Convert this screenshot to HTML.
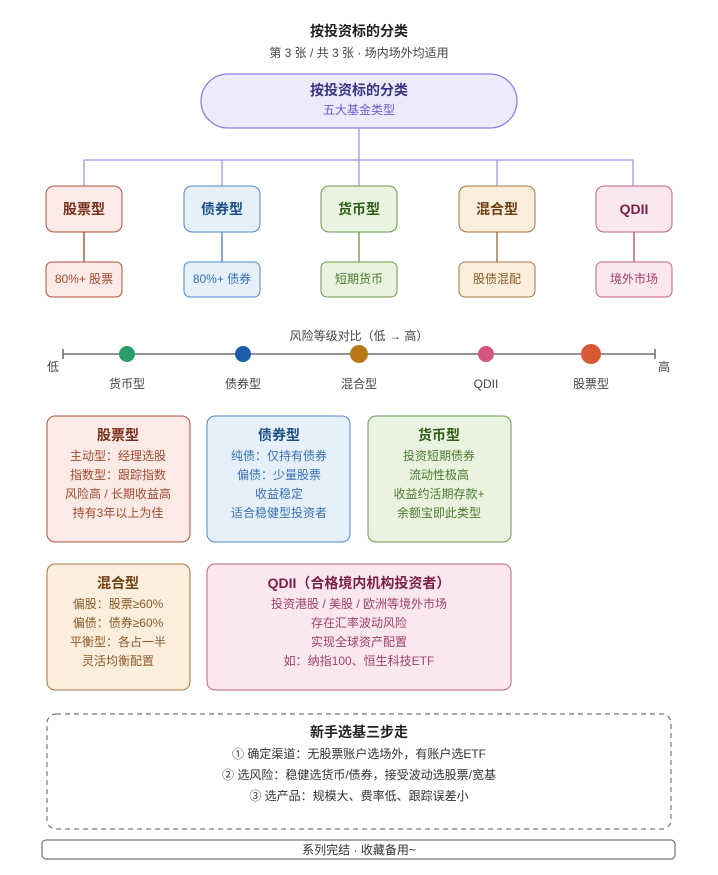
<!DOCTYPE html>
<html><head><meta charset="utf-8"><style>
html,body{margin:0;padding:0;background:#fff;}
svg text{font-family:"Liberation Sans","Noto Sans CJK SC",sans-serif;}
</style></head><body>
<svg width="718" height="870" viewBox="0 0 718 870" xmlns="http://www.w3.org/2000/svg">
<rect width="718" height="870" fill="#fff"/>
<text x="359" y="36" text-anchor="middle" font-size="14" font-weight="bold" fill="#222">按投资标的分类</text>
<text x="359" y="57" text-anchor="middle" font-size="12" fill="#444">第 3 张 / 共 3 张 · 场内场外均适用</text>
<rect x="201" y="74" width="316" height="54" rx="27" fill="#eceafb" stroke="#8b80e0" stroke-width="1.3"/>
<text x="359" y="95" text-anchor="middle" font-size="14" font-weight="bold" fill="#3b3480">按投资标的分类</text>
<text x="359" y="114" text-anchor="middle" font-size="12" fill="#6b5fd0">五大基金类型</text>
<g stroke="#9890e8" stroke-width="1.2" fill="none">
<path d="M359 128V160M84 186V160H633V186M222 160V186M359 160V186M497 160V186"/>
</g>
<!-- level boxes -->
<g font-size="14" font-weight="bold" text-anchor="middle">
<rect x="46" y="186" width="76" height="46" rx="8" fill="#fbeae5" stroke="#b0523a"/>
<text x="84" y="214" fill="#7a2e1a">股票型</text>
<rect x="184" y="186" width="76" height="46" rx="8" fill="#e5f0fb" stroke="#4a88c8"/>
<text x="222" y="214" fill="#1d4d85">债券型</text>
<rect x="321" y="186" width="76" height="46" rx="8" fill="#e9f3e0" stroke="#6a9a4a"/>
<text x="359" y="214" fill="#2f5e16">货币型</text>
<rect x="459" y="186" width="76" height="46" rx="8" fill="#fbeedd" stroke="#a8743a"/>
<text x="497" y="214" fill="#6e3f10">混合型</text>
<rect x="596" y="186" width="76" height="46" rx="8" fill="#fbe8ef" stroke="#c06086"/>
<text x="634" y="214" fill="#7a1f45">QDII</text>
</g>
<g stroke-width="1.2">
<line x1="84" y1="232" x2="84" y2="262" stroke="#8a3a22"/>
<line x1="222" y1="232" x2="222" y2="262" stroke="#3a70b0"/>
<line x1="359" y1="232" x2="359" y2="262" stroke="#5a8a3a"/>
<line x1="497" y1="232" x2="497" y2="262" stroke="#8a5a28"/>
<line x1="634" y1="232" x2="634" y2="262" stroke="#a0406a"/>
</g>
<g font-size="12" text-anchor="middle">
<rect x="46" y="262" width="76" height="35" rx="6" fill="#fbeae5" stroke="#b0523a"/>
<text x="84" y="283" fill="#a04a30">80%+ 股票</text>
<rect x="184" y="262" width="76" height="35" rx="6" fill="#e5f0fb" stroke="#4a88c8"/>
<text x="222" y="283" fill="#3a70b0">80%+ 债券</text>
<rect x="321" y="262" width="76" height="35" rx="6" fill="#e9f3e0" stroke="#6a9a4a"/>
<text x="359" y="283" fill="#4d7a2e">短期货币</text>
<rect x="459" y="262" width="76" height="35" rx="6" fill="#fbeedd" stroke="#a8743a"/>
<text x="497" y="283" fill="#8a5a28">股债混配</text>
<rect x="596" y="262" width="76" height="35" rx="6" fill="#fbe8ef" stroke="#c06086"/>
<text x="634" y="283" fill="#a0406a">境外市场</text>
</g>
<!-- risk line -->
<text x="359" y="340" text-anchor="middle" font-size="12" fill="#444">风险等级对比（低 → 高）</text>
<g stroke="#555" stroke-width="1.3"><line x1="63" y1="354" x2="655" y2="354"/><line x1="63" y1="349" x2="63" y2="359"/><line x1="655" y1="349" x2="655" y2="359"/></g>
<text x="53" y="371" text-anchor="middle" font-size="12" fill="#444">低</text>
<text x="664" y="371" text-anchor="middle" font-size="12" fill="#444">高</text>
<circle cx="127" cy="354" r="8" fill="#2a9d6a"/>
<circle cx="243" cy="354" r="8" fill="#1a5ea8"/>
<circle cx="359" cy="354" r="9" fill="#b87818"/>
<circle cx="486" cy="354" r="8" fill="#d45482"/>
<circle cx="591" cy="354" r="10" fill="#d65a34"/>
<g font-size="12" text-anchor="middle" fill="#444">
<text x="127" y="388">货币型</text><text x="243" y="388">债券型</text><text x="359" y="388">混合型</text><text x="486" y="388">QDII</text><text x="591" y="388">股票型</text>
</g>
<!-- cards -->
<g font-size="12" text-anchor="middle">
<rect x="47" y="416" width="143" height="126" rx="8" fill="#fbeae5" stroke="#b0523a"/>
<text x="118" y="440" font-size="14" font-weight="bold" fill="#7a2e1a">股票型</text>
<g fill="#a04a30"><text x="118" y="460">主动型：经理选股</text><text x="118" y="479">指数型：跟踪指数</text><text x="118" y="498">风险高 / 长期收益高</text><text x="118" y="517">持有3年以上为佳</text></g>
<rect x="207" y="416" width="143" height="126" rx="8" fill="#e5f0fb" stroke="#4a88c8"/>
<text x="279" y="440" font-size="14" font-weight="bold" fill="#1d4d85">债券型</text>
<g fill="#3a70b0"><text x="279" y="460">纯债：仅持有债券</text><text x="279" y="479">偏债：少量股票</text><text x="279" y="498">收益稳定</text><text x="279" y="517">适合稳健型投资者</text></g>
<rect x="368" y="416" width="143" height="126" rx="8" fill="#e9f3e0" stroke="#6a9a4a"/>
<text x="439" y="440" font-size="14" font-weight="bold" fill="#2f5e16">货币型</text>
<g fill="#4d7a2e"><text x="439" y="460">投资短期债券</text><text x="439" y="479">流动性极高</text><text x="439" y="498">收益约活期存款+</text><text x="439" y="517">余额宝即此类型</text></g>
<rect x="47" y="564" width="143" height="126" rx="8" fill="#fbeedd" stroke="#a8743a"/>
<text x="118" y="588" font-size="14" font-weight="bold" fill="#6e3f10">混合型</text>
<g fill="#8a5a28"><text x="118" y="608">偏股：股票≥60%</text><text x="118" y="627">偏债：债券≥60%</text><text x="118" y="646">平衡型：各占一半</text><text x="118" y="665">灵活均衡配置</text></g>
<rect x="207" y="564" width="304" height="126" rx="8" fill="#fbe8ef" stroke="#c06086"/>
<text x="359" y="588" font-size="14" font-weight="bold" fill="#7a1f45">QDII（合格境内机构投资者）</text>
<g fill="#a0406a"><text x="359" y="608">投资港股 / 美股 / 欧洲等境外市场</text><text x="359" y="627">存在汇率波动风险</text><text x="359" y="646">实现全球资产配置</text><text x="359" y="665">如：纳指100、恒生科技ETF</text></g>
</g>
<rect x="47" y="714" width="624" height="115" rx="9" fill="#fff" stroke="#777" stroke-dasharray="5,4" stroke-width="1.2"/>
<text x="359" y="737" text-anchor="middle" font-size="14" font-weight="bold" fill="#222">新手选基三步走</text>
<g font-size="12" text-anchor="middle" fill="#333">
<text x="359" y="758">① 确定渠道：无股票账户选场外，有账户选ETF</text>
<text x="359" y="779">② 选风险：稳健选货币/债券，接受波动选股票/宽基</text>
<text x="359" y="800">③ 选产品：规模大、费率低、跟踪误差小</text>
</g>
<rect x="42" y="840" width="633" height="19" rx="4" fill="#fff" stroke="#555" stroke-width="1"/>
<text x="359" y="854" text-anchor="middle" font-size="12" fill="#333">系列完结 · 收藏备用~</text>
</svg>
</body></html>
